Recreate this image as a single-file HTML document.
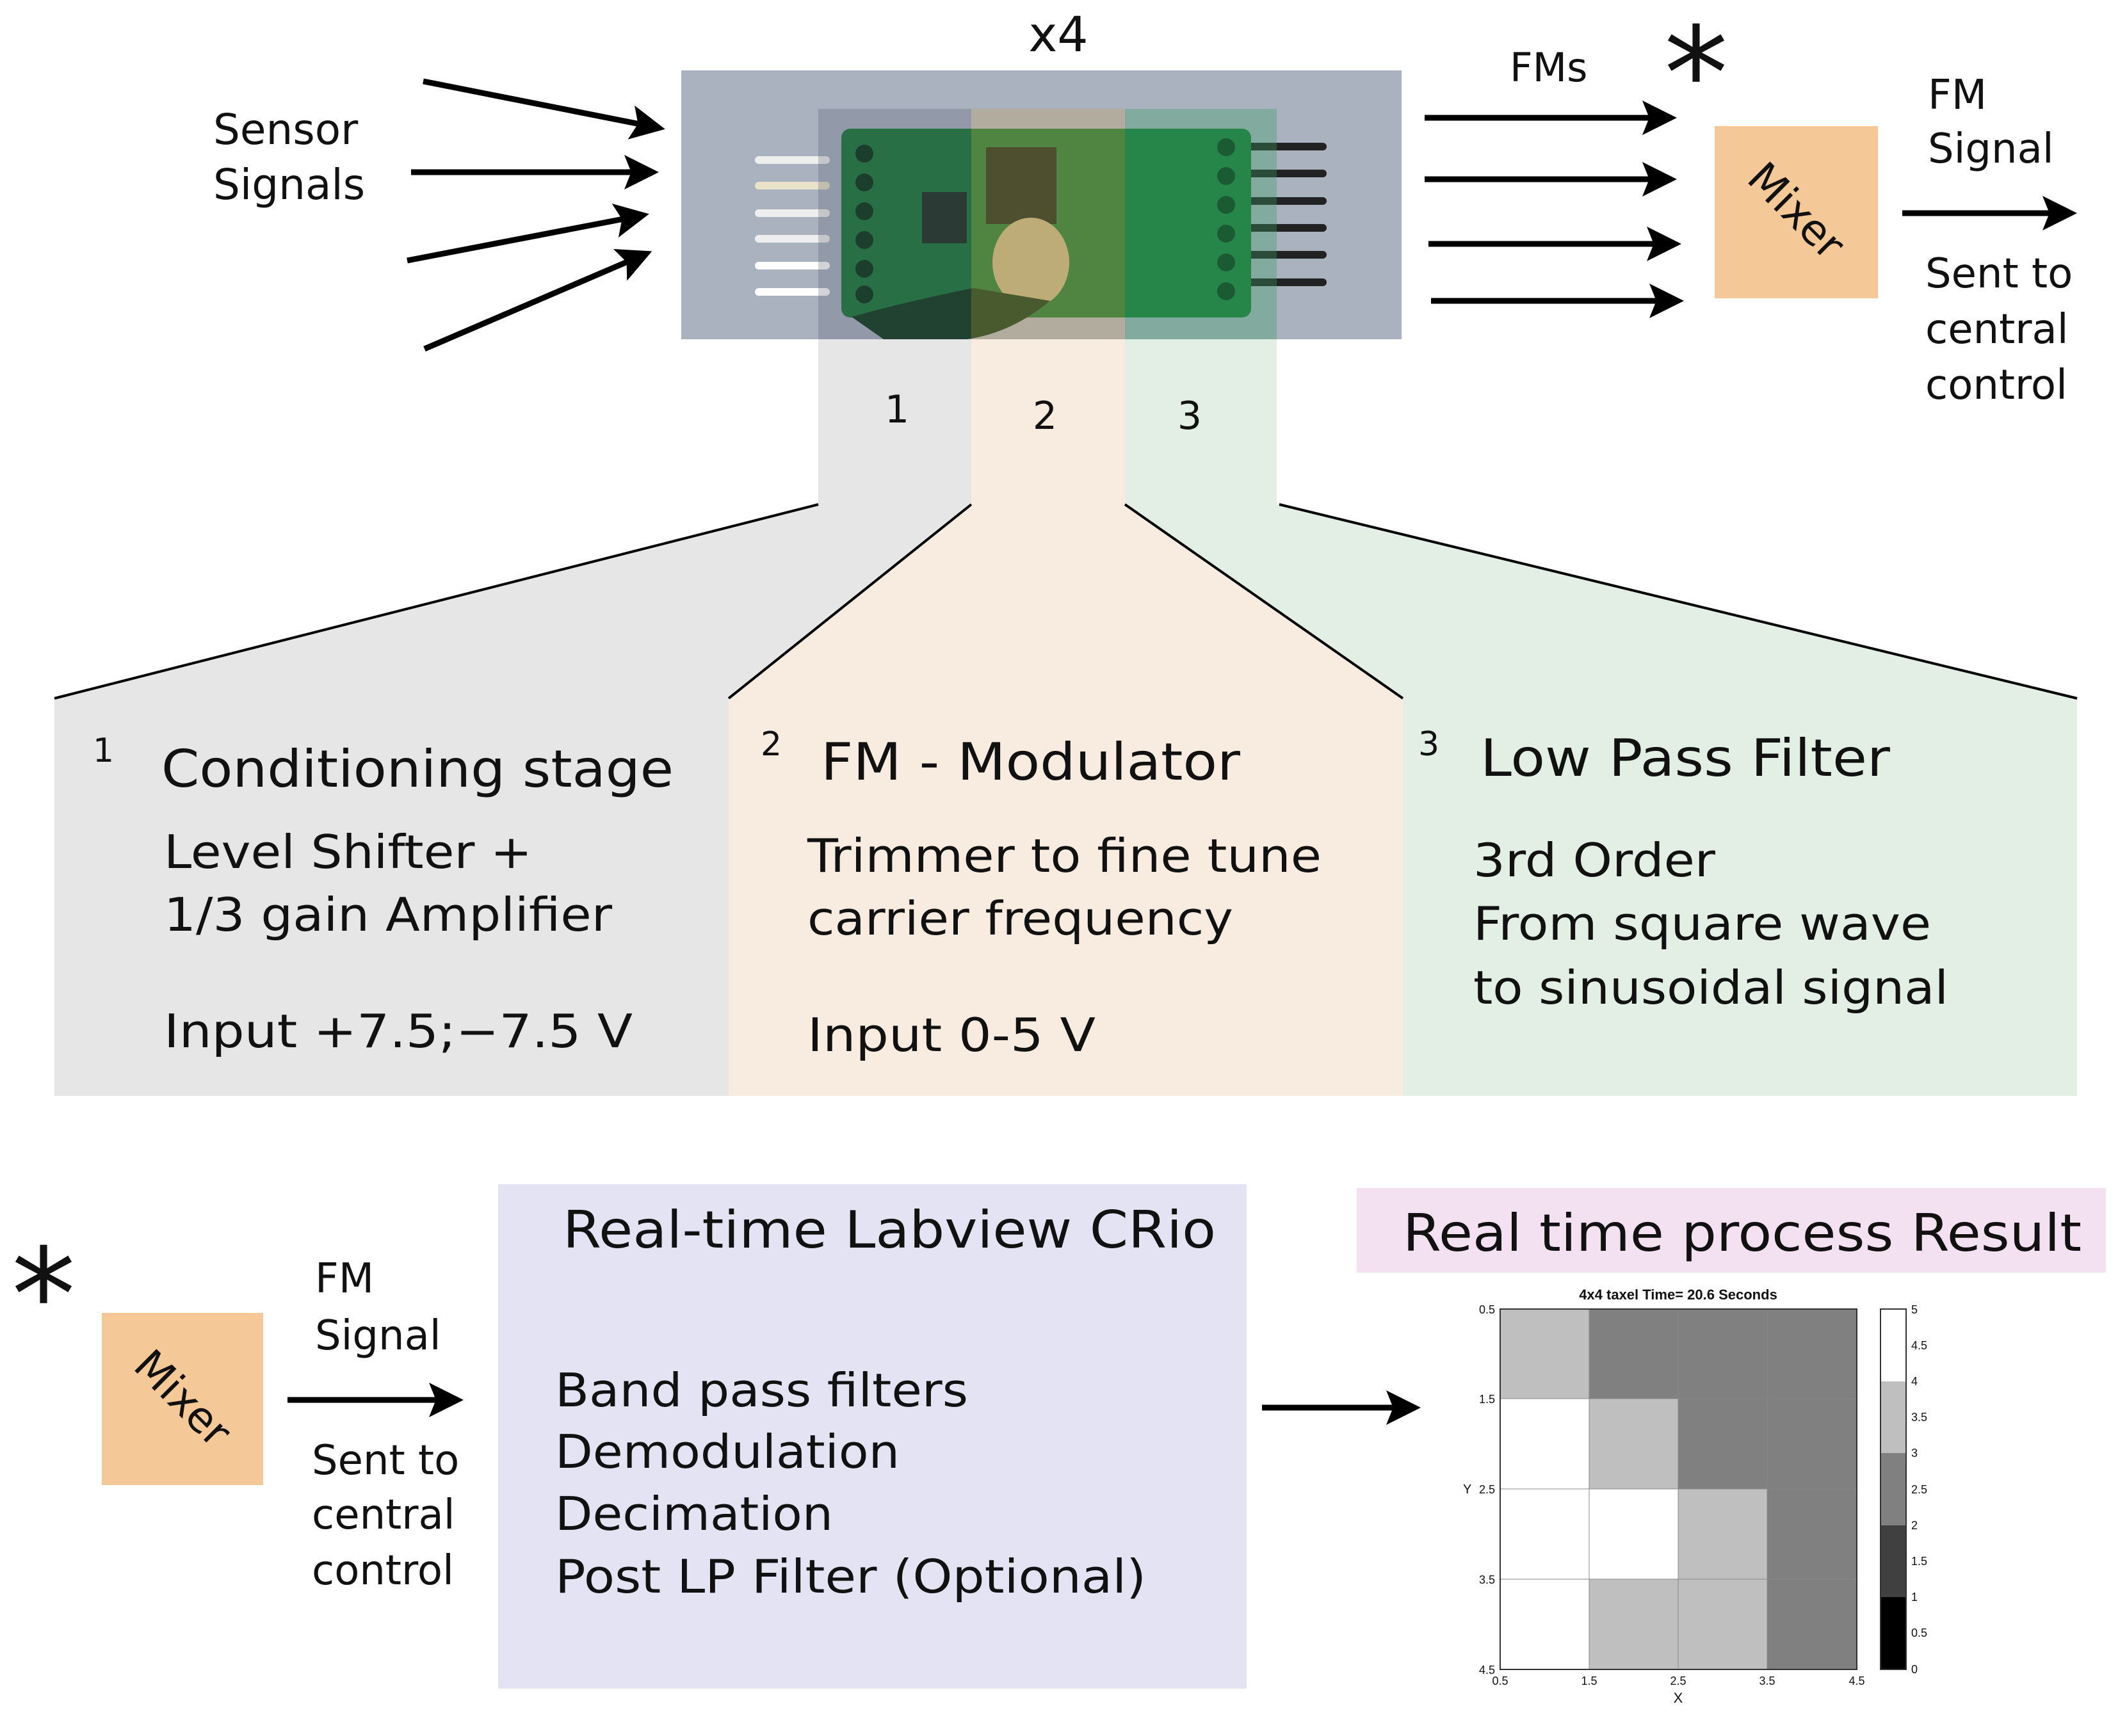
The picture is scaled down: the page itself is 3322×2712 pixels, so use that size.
<!DOCTYPE html>
<html><head><meta charset="utf-8"><style>
html,body{margin:0;padding:0;background:#fff}
svg{display:block}
text{font-family:"DejaVu Sans","Liberation Sans",sans-serif;fill:#111}
.hm text{font-family:"Liberation Sans",sans-serif}
</style></head><body>
<svg width="3322" height="2712" viewBox="0 0 3322 2712" xmlns="http://www.w3.org/2000/svg">
<defs>
<marker id="ah" markerWidth="6" markerHeight="6" refX="5" refY="3" orient="auto" markerUnits="strokeWidth">
<path d="M0,0 L6,3 L0,6 L1.2,3 z" fill="#000"/></marker>
</defs>
<rect width="3322" height="2712" fill="#fff"/>

<rect x="1278" y="170" width="239" height="618" fill="#e6e6e6"/>
<rect x="1517" y="170" width="240" height="618" fill="#f8ece1"/>
<rect x="1757" y="170" width="237" height="618" fill="#e3efe4"/>

<polygon points="1278,788 1517,788 1138,1091 85,1091" fill="#e6e6e6"/>
<polygon points="1517,788 1757,788 2191,1091 1138,1091" fill="#f8ece1"/>
<polygon points="1757,788 1998,788 3244,1091 2191,1091" fill="#e3efe4"/>
<rect x="85" y="1091" width="1053" height="621" fill="#e6e6e6"/>
<rect x="1138" y="1091" width="1053" height="621" fill="#f8ece1"/>
<rect x="2191" y="1091" width="1053" height="621" fill="#e3efe4"/>
<g stroke="#000" stroke-width="4">
<line x1="1278" y1="788" x2="85" y2="1091"/>
<line x1="1517" y1="788" x2="1138" y2="1091"/>
<line x1="1757" y1="788" x2="2191" y2="1091"/>
<line x1="1998" y1="788" x2="3244" y2="1091"/>
</g>

<rect x="1064" y="110" width="1125" height="420" fill="#aab2c0"/>
<g stroke-width="12" stroke-linecap="round">
<line x1="1185" y1="250" x2="1290" y2="250" stroke="#eee"/>
<line x1="1185" y1="290" x2="1290" y2="290" stroke="#e8e2c8"/>
<line x1="1185" y1="333" x2="1290" y2="333" stroke="#eee"/>
<line x1="1185" y1="373" x2="1290" y2="373" stroke="#eee"/>
<line x1="1185" y1="415" x2="1290" y2="415" stroke="#fff"/>
<line x1="1185" y1="456" x2="1290" y2="456" stroke="#fff"/>
<line x1="1950" y1="229" x2="2066" y2="229" stroke="#222"/>
<line x1="1950" y1="271" x2="2066" y2="271" stroke="#222"/>
<line x1="1950" y1="314" x2="2066" y2="314" stroke="#222"/>
<line x1="1950" y1="356" x2="2066" y2="356" stroke="#222"/>
<line x1="1950" y1="398" x2="2066" y2="398" stroke="#222"/>
<line x1="1950" y1="441" x2="2066" y2="441" stroke="#222"/>
</g>
<rect x="1314" y="201" width="640" height="295" rx="14" fill="#1d7a3c"/>
<rect x="1540" y="230" width="110" height="120" fill="#1a1a1a" opacity="0.8"/>
<rect x="1440" y="300" width="70" height="80" fill="#222" opacity="0.8"/>
<ellipse cx="1610" cy="410" rx="60" ry="70" fill="#b9b08a"/>
<path d="M1330,495 Q1420,470 1520,450 L1640,470 Q1580,520 1510,530 L1380,530 Z" fill="#133d22"/>
<g fill="#0c3a1c">
<circle cx="1350" cy="240" r="14"/><circle cx="1350" cy="285" r="14"/><circle cx="1350" cy="330" r="14"/>
<circle cx="1350" cy="375" r="14"/><circle cx="1350" cy="420" r="14"/><circle cx="1350" cy="460" r="14"/>
<circle cx="1915" cy="230" r="14"/><circle cx="1915" cy="275" r="14"/><circle cx="1915" cy="320" r="14"/>
<circle cx="1915" cy="365" r="14"/><circle cx="1915" cy="410" r="14"/><circle cx="1915" cy="455" r="14"/>
</g>
<rect x="1278" y="170" width="239" height="360" fill="#4a5060" opacity="0.25"/>
<rect x="1517" y="170" width="240" height="360" fill="#c8a050" opacity="0.3"/>
<rect x="1757" y="170" width="237" height="360" fill="#3a9a60" opacity="0.35"/>

<text x="1653" y="80" font-size="76" text-anchor="middle">x4</text>
<text x="1401" y="660" font-size="60" text-anchor="middle">1</text>
<text x="1632" y="670" font-size="60" text-anchor="middle">2</text>
<text x="1858" y="670" font-size="60" text-anchor="middle">3</text>

<text x="333" y="225" font-size="66">Sensor</text>
<text x="333" y="311" font-size="66">Signals</text>
<g stroke="#000" stroke-width="9" marker-end="url(#ah)">
<line x1="661" y1="127" x2="1030" y2="200"/>
<line x1="642" y1="269" x2="1020" y2="269"/>
<line x1="636" y1="407" x2="1005" y2="336"/>
<line x1="663" y1="545" x2="1010" y2="396"/>
<line x1="2225" y1="184" x2="2610" y2="184"/>
<line x1="2225" y1="280" x2="2610" y2="280"/>
<line x1="2231" y1="381" x2="2617" y2="381"/>
<line x1="2235" y1="470" x2="2621" y2="470"/>
<line x1="2971" y1="333" x2="3235" y2="333"/>
<line x1="449" y1="2187" x2="715" y2="2187"/>
<line x1="1971" y1="2199" x2="2210" y2="2199"/>
</g>
<text x="2358" y="127" font-size="62">FMs</text>
<text x="2649" y="185" font-size="200" text-anchor="middle">*</text>
<rect x="2678" y="197" width="255" height="269" fill="#f5c897"/>
<text x="2805" y="352" font-size="66" text-anchor="middle" transform="rotate(45 2805 330)">Mixer</text>
<text x="3011" y="170" font-size="64">FM</text>
<text x="3011" y="254" font-size="64">Signal</text>
<text x="3007" y="449" font-size="64">Sent to</text>
<text x="3007" y="536" font-size="64">central</text>
<text x="3007" y="623" font-size="64">control</text>

<text x="145" y="1190" font-size="52">1</text>
<text x="252" y="1229" font-size="80" textLength="800" lengthAdjust="spacingAndGlyphs">Conditioning stage</text>
<text x="256" y="1356" font-size="72" textLength="575" lengthAdjust="spacingAndGlyphs">Level Shifter +</text>
<text x="256" y="1454" font-size="72" textLength="700" lengthAdjust="spacingAndGlyphs">1/3 gain Amplifier</text>
<text x="256" y="1636" font-size="72" textLength="732" lengthAdjust="spacingAndGlyphs">Input +7.5;−7.5 V</text>
<text x="1188" y="1180" font-size="52">2</text>
<text x="1282" y="1218" font-size="80" textLength="655" lengthAdjust="spacingAndGlyphs">FM - Modulator</text>
<text x="1261" y="1362" font-size="72" textLength="803" lengthAdjust="spacingAndGlyphs">Trimmer to fine tune</text>
<text x="1261" y="1460" font-size="72" textLength="665" lengthAdjust="spacingAndGlyphs">carrier frequency</text>
<text x="1261" y="1642" font-size="72" textLength="450" lengthAdjust="spacingAndGlyphs">Input 0-5 V</text>
<text x="2215" y="1180" font-size="52">3</text>
<text x="2312" y="1212" font-size="80" textLength="640" lengthAdjust="spacingAndGlyphs">Low Pass Filter</text>
<text x="2301" y="1369" font-size="72" textLength="378" lengthAdjust="spacingAndGlyphs">3rd Order</text>
<text x="2301" y="1468" font-size="72" textLength="715" lengthAdjust="spacingAndGlyphs">From square wave</text>
<text x="2301" y="1568" font-size="72" textLength="742" lengthAdjust="spacingAndGlyphs">to sinusoidal signal</text>

<text x="68" y="2093" font-size="200" text-anchor="middle">*</text>
<rect x="159" y="2051" width="252" height="269" fill="#f5c897"/>
<text x="285" y="2207" font-size="66" text-anchor="middle" transform="rotate(45 285 2185)">Mixer</text>
<text x="492" y="2019" font-size="64">FM</text>
<text x="492" y="2108" font-size="64">Signal</text>
<text x="487" y="2303" font-size="64">Sent to</text>
<text x="487" y="2388" font-size="64">central</text>
<text x="487" y="2475" font-size="64">control</text>

<rect x="778" y="1850" width="1169" height="788" fill="#e3e3f3"/>
<text x="879" y="1949" font-size="80" textLength="1020" lengthAdjust="spacingAndGlyphs">Real-time Labview CRio</text>
<text x="867" y="2197" font-size="72" textLength="645" lengthAdjust="spacingAndGlyphs">Band pass filters</text>
<text x="867" y="2293" font-size="72" textLength="538" lengthAdjust="spacingAndGlyphs">Demodulation</text>
<text x="867" y="2390" font-size="72" textLength="434" lengthAdjust="spacingAndGlyphs">Decimation</text>
<text x="867" y="2488" font-size="72" textLength="923" lengthAdjust="spacingAndGlyphs">Post LP Filter (Optional)</text>

<rect x="2119" y="1856" width="1170" height="132" fill="#f3e1f2"/>
<text x="2191" y="1954" font-size="80" textLength="1060" lengthAdjust="spacingAndGlyphs">Real time process Result</text>

<g class="hm">
<text x="2621" y="2030" font-size="22" font-weight="bold" text-anchor="middle">4x4 taxel Time= 20.6 Seconds</text>
<rect x="2343" y="2045" width="139" height="140" fill="#bfbfbf"/>
<rect x="2482" y="2045" width="139" height="140" fill="#808080"/>
<rect x="2621" y="2045" width="139" height="140" fill="#808080"/>
<rect x="2760" y="2045" width="140" height="140" fill="#808080"/>
<rect x="2343" y="2185" width="139" height="141" fill="#fff"/>
<rect x="2482" y="2185" width="139" height="141" fill="#bfbfbf"/>
<rect x="2621" y="2185" width="139" height="141" fill="#808080"/>
<rect x="2760" y="2185" width="140" height="141" fill="#808080"/>
<rect x="2343" y="2326" width="139" height="141" fill="#fff"/>
<rect x="2482" y="2326" width="139" height="141" fill="#fff"/>
<rect x="2621" y="2326" width="139" height="141" fill="#bfbfbf"/>
<rect x="2760" y="2326" width="140" height="141" fill="#808080"/>
<rect x="2343" y="2467" width="139" height="141" fill="#fff"/>
<rect x="2482" y="2467" width="139" height="141" fill="#bfbfbf"/>
<rect x="2621" y="2467" width="139" height="141" fill="#bfbfbf"/>
<rect x="2760" y="2467" width="140" height="141" fill="#808080"/>
<g stroke="#888" stroke-width="1">
<line x1="2482" y1="2045" x2="2482" y2="2608"/><line x1="2621" y1="2045" x2="2621" y2="2608"/><line x1="2760" y1="2045" x2="2760" y2="2608"/>
<line x1="2343" y1="2185" x2="2900" y2="2185"/><line x1="2343" y1="2326" x2="2900" y2="2326"/><line x1="2343" y1="2467" x2="2900" y2="2467"/>
</g>
<rect x="2343" y="2045" width="557" height="563" fill="none" stroke="#333" stroke-width="2"/>
<rect x="2937" y="2045" width="40" height="113" fill="#fff"/>
<rect x="2937" y="2158" width="40" height="112" fill="#bfbfbf"/>
<rect x="2937" y="2270" width="40" height="113" fill="#808080"/>
<rect x="2937" y="2383" width="40" height="112" fill="#404040"/>
<rect x="2937" y="2495" width="40" height="113" fill="#000"/>
<rect x="2937" y="2045" width="40" height="563" fill="none" stroke="#333" stroke-width="2"/>
<g font-size="18" fill="#444">
<text x="2335" y="2052" text-anchor="end">0.5</text>
<text x="2335" y="2192" text-anchor="end">1.5</text>
<text x="2335" y="2333" text-anchor="end">2.5</text>
<text x="2335" y="2474" text-anchor="end">3.5</text>
<text x="2335" y="2615" text-anchor="end">4.5</text>
<text x="2343" y="2632" text-anchor="middle">0.5</text>
<text x="2482" y="2632" text-anchor="middle">1.5</text>
<text x="2621" y="2632" text-anchor="middle">2.5</text>
<text x="2760" y="2632" text-anchor="middle">3.5</text>
<text x="2900" y="2632" text-anchor="middle">4.5</text>
<text x="2621" y="2660" text-anchor="middle" font-size="22">X</text>
<text x="2285" y="2333" font-size="20">Y</text>
<text x="2985" y="2052">5</text><text x="2985" y="2108">4.5</text><text x="2985" y="2164">4</text>
<text x="2985" y="2220">3.5</text><text x="2985" y="2276">3</text><text x="2985" y="2333">2.5</text>
<text x="2985" y="2389">2</text><text x="2985" y="2445">1.5</text><text x="2985" y="2501">1</text>
<text x="2985" y="2557">0.5</text><text x="2985" y="2614">0</text>
</g>
</g>
</svg>
</body></html>
